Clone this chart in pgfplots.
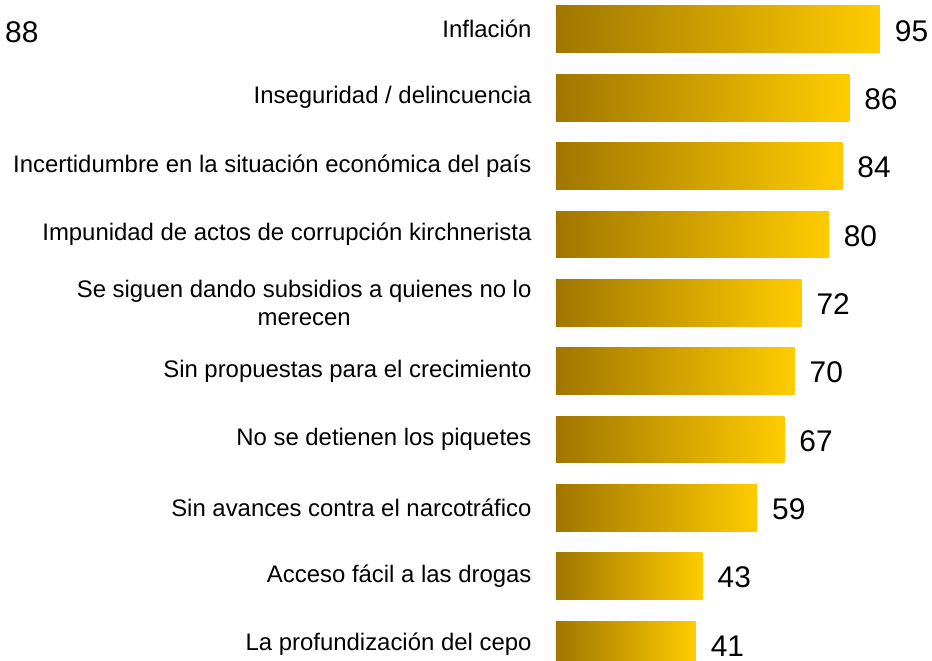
\documentclass[border=0pt]{standalone}
\usepackage{pgfplots}
\pgfplotsset{compat=1.18}
\usepackage{fontspec}
\setmainfont{Liberation Sans}
\definecolor{golddark}{RGB}{160,118,0}
\definecolor{goldlight}{RGB}{255,204,0}
\begin{document}
\begin{tikzpicture}[x=1bp,y=1bp]
\begin{axis}[
  at={(0,0)}, anchor=south west,
  scale only axis, width=376bp, height=661bp,
  xmin=0, xmax=110.26, ymin=-0.241, ymax=9.429,
  axis line style={draw=none}, major tick length=0pt,
  xtick=\empty, ytick={0,...,9},
  /pgf/number format/assume math mode=true,
  yticklabels={La profundización del cepo, Acceso fácil a las drogas,
    Sin avances contra el narcotráfico, No se detienen los piquetes,
    Sin propuestas para el crecimiento,
    {Se siguen dando subsidios a quienes no lo\\merecen},
    Impunidad de actos de corrupción kirchnerista,
    Incertidumbre en la situación económica del país,
    Inseguridad / delincuencia, Inflación},
  yticklabel style={font=\fontsize{24}{28.5}\selectfont, align=center, xshift=-21bp},
  gbar/.style={xbar, bar shift=0pt, bar width=0.683, draw=none,
    left color=golddark, right color=goldlight,
    nodes near coords,
    every node near coord/.append style={font=\fontsize{30}{36}\selectfont, anchor=west,
      xshift=11.5bp, yshift=-1.5bp, text=black}},
  clip=false,
]
\addplot[gbar] coordinates {(41,0)};
\addplot[gbar] coordinates {(43,1)};
\addplot[gbar] coordinates {(59,2)};
\addplot[gbar] coordinates {(67,3)};
\addplot[gbar] coordinates {(70,4)};
\addplot[gbar] coordinates {(72,5)};
\addplot[gbar] coordinates {(80,6)};
\addplot[gbar] coordinates {(84,7)};
\addplot[gbar] coordinates {(86,8)};
\addplot[gbar] coordinates {(95,9)};
\end{axis}
\node[anchor=west, inner sep=0pt, font=\fontsize{30}{36}\selectfont] at (-551,629) {88};
\pgfresetboundingbox
\path (-556,0) rectangle (376,661);
\end{tikzpicture}
\end{document}
